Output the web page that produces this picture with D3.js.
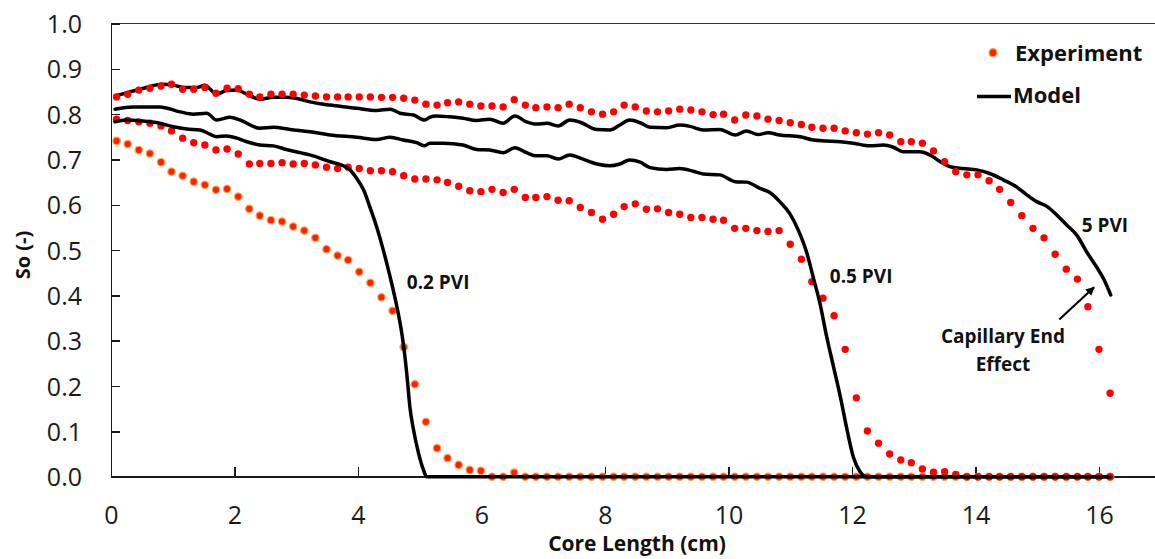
<!DOCTYPE html>
<meta charset="utf-8">
<style type="text/css">
	body {
		margin: 0;
		background: #fff;
		font-family: "Open Sans", sans-serif;
	}

	.axis text {
		font-family: "Open Sans", sans-serif;
		font-size: 25px;
		fill: #1a1a1a;
	}

	.axis line, .axis path {
		stroke: #1a1a1a;
		stroke-width: 1.5px;
		shape-rendering: crispEdges;
	}

	.axis-title, .g-label, .legend-text {
		font-family: "Open Sans", sans-serif;
		font-weight: 700;
		fill: #111;
	}

	.model {
		fill: none;
		stroke: #000;
		stroke-width: 3.5px;
		stroke-linejoin: round;
		stroke-linecap: round;
	}
</style>
<body>
<div class="g-chart"></div>
</body>

<script src="https://d3js.org/d3.v7.min.js"></script>

<script>
  // positions along the core (cm) of the measured slices
  var corePos = [0.09, 0.27, 0.45, 0.63, 0.81, 0.98, 1.16, 1.34, 1.52, 1.70,
    1.88, 2.06, 2.24, 2.41, 2.59, 2.77, 2.95, 3.13, 3.31, 3.49,
    3.67, 3.84, 4.02, 4.20, 4.38, 4.56, 4.74, 4.92, 5.10, 5.28,
    5.45, 5.63, 5.81, 5.99, 6.17, 6.35, 6.53, 6.71, 6.88, 7.06,
    7.24, 7.42, 7.60, 7.78, 7.96, 8.14, 8.31, 8.49, 8.67, 8.85,
    9.03, 9.21, 9.39, 9.57, 9.75, 9.92, 10.10, 10.28, 10.46, 10.64,
    10.82, 11.00, 11.18, 11.35, 11.53, 11.71, 11.89, 12.07, 12.25, 12.43,
    12.61, 12.79, 12.96, 13.14, 13.32, 13.50, 13.68, 13.86, 14.04, 14.22,
    14.39, 14.57, 14.75, 14.93, 15.11, 15.29, 15.47, 15.65, 15.82, 16.00,
    16.18];

  // experiment, 0.2 PVI
  var exp02 = [0.741, 0.734, 0.721, 0.713, 0.694, 0.673, 0.664, 0.651, 0.644, 0.633,
    0.635, 0.618, 0.591, 0.576, 0.566, 0.563, 0.552, 0.543, 0.527, 0.502,
    0.488, 0.478, 0.452, 0.428, 0.396, 0.366, 0.286, 0.204, 0.121, 0.063,
    0.041, 0.026, 0.015, 0.013, 0, 0, 0.009, 0, 0, 0,
    0, 0, 0, 0, 0, 0, 0, 0, 0, 0,
    0, 0, 0, 0, 0, 0, 0, 0, 0, 0,
    0, 0, 0, 0, 0, 0, 0, 0, 0, 0,
    0, 0, 0, 0, 0, 0, 0, 0, 0, 0,
    0, 0, 0, 0, 0, 0, 0, 0, 0, 0,
    0];

  // experiment, 0.5 PVI
  var exp05 = [0.789, 0.786, 0.783, 0.780, 0.774, 0.763, 0.747, 0.737, 0.732, 0.721,
    0.723, 0.712, 0.690, 0.691, 0.691, 0.693, 0.690, 0.691, 0.688, 0.683,
    0.680, 0.683, 0.680, 0.675, 0.675, 0.673, 0.664, 0.657, 0.657, 0.655,
    0.649, 0.641, 0.631, 0.629, 0.634, 0.627, 0.634, 0.616, 0.616, 0.618,
    0.610, 0.609, 0.594, 0.583, 0.568, 0.579, 0.596, 0.602, 0.590, 0.591,
    0.583, 0.579, 0.572, 0.572, 0.568, 0.566, 0.548, 0.548, 0.543, 0.541,
    0.543, 0.513, 0.480, 0.430, 0.394, 0.355, 0.281, 0.174, 0.101, 0.074,
    0.050, 0.037, 0.031, 0.017, 0.010, 0.011, 0.005, 0, 0, 0,
    0, 0, 0, 0, 0, 0, 0, 0, 0, 0,
    0];

  // experiment, 5 PVI
  var exp5 = [0.838, 0.844, 0.853, 0.857, 0.862, 0.866, 0.855, 0.855, 0.859, 0.846,
    0.857, 0.856, 0.844, 0.838, 0.844, 0.844, 0.844, 0.842, 0.840, 0.838,
    0.838, 0.838, 0.838, 0.838, 0.837, 0.837, 0.835, 0.831, 0.822, 0.820,
    0.825, 0.827, 0.822, 0.818, 0.818, 0.816, 0.832, 0.820, 0.814, 0.816,
    0.814, 0.822, 0.814, 0.805, 0.800, 0.805, 0.820, 0.816, 0.807, 0.805,
    0.807, 0.811, 0.809, 0.805, 0.799, 0.800, 0.787, 0.798, 0.796, 0.789,
    0.786, 0.781, 0.777, 0.771, 0.769, 0.769, 0.763, 0.759, 0.756, 0.759,
    0.754, 0.739, 0.739, 0.736, 0.719, 0.695, 0.673, 0.666, 0.666, 0.653,
    0.634, 0.605, 0.576, 0.548, 0.527, 0.491, 0.458, 0.436, 0.375, 0.281,
    0.184];

  // model curves [core length, So]
  var model02 = [[0.065, 0.783], [0.25, 0.787], [0.63, 0.783], [0.79, 0.780], [1.01, 0.772],
    [1.23, 0.767], [1.44, 0.765], [1.60, 0.756], [1.71, 0.750], [1.87, 0.752], [2.04, 0.747],
    [2.20, 0.739], [2.41, 0.732], [2.63, 0.730], [2.84, 0.722], [3.06, 0.715], [3.22, 0.710],
    [3.55, 0.695], [3.76, 0.686], [3.87, 0.677], [3.98, 0.658], [4.09, 0.633], [4.19, 0.596],
    [4.30, 0.552], [4.41, 0.500], [4.52, 0.441], [4.63, 0.375], [4.71, 0.316], [4.76, 0.265],
    [4.80, 0.213], [4.84, 0.154], [4.90, 0.103], [4.98, 0.052], [5.06, 0.015], [5.11, 0],
    [16.19, 0]];

  var model05 = [[0.065, 0.811], [0.36, 0.816], [0.79, 0.816], [1.12, 0.805], [1.33, 0.800],
    [1.55, 0.802], [1.71, 0.787], [1.93, 0.793], [2.09, 0.787], [2.41, 0.769], [2.63, 0.771],
    [2.90, 0.766], [3.22, 0.761], [3.55, 0.754], [3.98, 0.749], [4.30, 0.744], [4.52, 0.749],
    [4.73, 0.743], [4.95, 0.737], [5.08, 0.730], [5.16, 0.736], [5.38, 0.736], [5.70, 0.732],
    [5.92, 0.722], [6.13, 0.721], [6.35, 0.715], [6.54, 0.726], [6.73, 0.715], [6.89, 0.708],
    [7.06, 0.708], [7.24, 0.701], [7.43, 0.710], [7.60, 0.703], [7.87, 0.690], [8.08, 0.686],
    [8.24, 0.690], [8.40, 0.699], [8.57, 0.694], [8.73, 0.682], [9.00, 0.678], [9.21, 0.680],
    [9.43, 0.674], [9.59, 0.668], [9.86, 0.666], [10.11, 0.651], [10.29, 0.650], [10.51, 0.636],
    [10.67, 0.627], [10.83, 0.607], [10.99, 0.581], [11.13, 0.544], [11.27, 0.493], [11.37, 0.441],
    [11.48, 0.383], [11.59, 0.309], [11.70, 0.243], [11.81, 0.177], [11.91, 0.110], [12.02, 0.044],
    [12.13, 0.011], [12.24, 0], [16.19, 0]];

  var model5 = [[0.065, 0.840], [0.25, 0.847], [0.47, 0.855], [0.63, 0.861], [0.82, 0.866],
    [1.01, 0.864], [1.17, 0.859], [1.39, 0.859], [1.52, 0.864], [1.71, 0.844], [1.87, 0.852],
    [2.04, 0.853], [2.20, 0.844], [2.41, 0.833], [2.63, 0.837], [2.84, 0.837], [3.06, 0.833],
    [3.22, 0.827], [3.55, 0.820], [3.98, 0.813], [4.30, 0.808], [4.52, 0.811], [4.68, 0.802],
    [4.90, 0.798], [5.08, 0.787], [5.16, 0.793], [5.27, 0.796], [5.49, 0.794], [5.70, 0.791],
    [5.92, 0.786], [6.13, 0.789], [6.35, 0.780], [6.54, 0.796], [6.73, 0.783], [6.89, 0.778],
    [7.06, 0.780], [7.24, 0.774], [7.43, 0.787], [7.60, 0.782], [7.87, 0.766], [8.08, 0.765],
    [8.24, 0.776], [8.40, 0.787], [8.57, 0.781], [8.73, 0.771], [9.00, 0.770], [9.21, 0.776],
    [9.38, 0.773], [9.59, 0.765], [9.86, 0.766], [10.11, 0.754], [10.29, 0.763], [10.48, 0.755],
    [10.64, 0.759], [10.83, 0.754], [11.16, 0.750], [11.37, 0.743], [11.59, 0.741], [11.81, 0.739],
    [12.02, 0.736], [12.29, 0.730], [12.51, 0.732], [12.67, 0.727], [12.83, 0.717], [13.10, 0.717],
    [13.26, 0.710], [13.43, 0.695], [13.59, 0.684], [13.80, 0.680], [14.02, 0.677], [14.23, 0.669],
    [14.45, 0.655], [14.67, 0.639], [14.83, 0.622], [14.99, 0.607], [15.15, 0.597], [15.32, 0.577],
    [15.48, 0.555], [15.64, 0.533], [15.80, 0.496], [15.96, 0.463], [16.07, 0.438], [16.19, 0.401]];

  var xTicks = [0, 2, 4, 6, 8, 10, 12, 14, 16];
  var yTicks = [0, 0.1, 0.2, 0.3, 0.4, 0.5, 0.6, 0.7, 0.8, 0.9, 1.0];

  // text labels: [text, core length, So]
  var pviLabels = [["0.2 PVI", 4.79, 0.414], ["0.5 PVI", 11.64, 0.427], ["5 PVI", 15.72, 0.541]];

  //Margin conventions
  var W = 1155, H = 559;
  var margin = { top: 23.5, left: 111, bottom: 82.3 };

  var svg = d3.select(".g-chart").append("svg")
    .attr("width", W)
    .attr("height", H);

  var xScale = d3.scaleLinear().domain([0, 17]).range([margin.left, margin.left + 17 * 61.75]);
  var yScale = d3.scaleLinear().domain([0, 1]).range([H - margin.bottom, margin.top]);

  //top border line
  svg.append("line")
    .attr("x1", xScale(0)).attr("x2", W)
    .attr("y1", yScale(1)).attr("y2", yScale(1))
    .style("stroke", "#333").style("stroke-width", 1.5)
    .style("shape-rendering", "crispEdges");

  //axes
  var xAxis = d3.axisBottom(xScale)
    .tickValues(xTicks)
    .tickSizeInner(-10)
    .tickSizeOuter(0)
    .tickPadding(30)
    .tickFormat(d3.format("d"));

  var yAxis = d3.axisLeft(yScale)
    .tickValues(yTicks)
    .tickSizeInner(-9)
    .tickSizeOuter(0)
    .tickPadding(29)
    .tickFormat(d3.format(".1f"));

  svg.append("g")
    .attr("class", "x axis")
    .attr("transform", "translate(0," + yScale(0) + ")")
    .call(xAxis);

  svg.append("g")
    .attr("class", "y axis")
    .attr("transform", "translate(" + xScale(0) + ",0)")
    .call(yAxis)
    .selectAll("text").attr("dy", "0.36em");

  //axis titles
  svg.append("text")
    .attr("class", "axis-title")
    .attr("x", 637).attr("y", 551)
    .attr("text-anchor", "middle")
    .style("font-size", "21px")
    .text("Core Length (cm)");

  svg.append("text")
    .attr("class", "axis-title")
    .attr("transform", "translate(30," + 255 + ") rotate(-90)")
    .attr("text-anchor", "middle")
    .style("font-size", "20px")
    .text("So (-)");

  //experiment dots
  function drawDots(values, fill, stroke) {
    svg.append("g").selectAll("circle")
      .data(values)
      .enter()
      .append("circle")
      .attr("cx", function(d, i) { return xScale(corePos[i]); })
      .attr("cy", function(d) { return yScale(d); })
      .attr("r", 3.7)
      .style("fill", fill)
      .style("stroke", stroke)
      .style("stroke-width", stroke == "none" ? 0 : 1.2);
  }

  drawDots(exp02, "#ff2200", "#ffa24a");
  drawDots(exp05, "#ff0000", "none");

  //model lines
  var line = d3.line()
    .x(function(d) { return xScale(d[0]); })
    .y(function(d) { return yScale(d[1]); })
    .curve(d3.curveMonotoneX);

  [model02, model05, model5].forEach(function(m) {
    svg.append("path")
      .datum(m)
      .attr("class", "model")
      .attr("d", line);
  });

  drawDots(exp5, "#ff0000", "none");

  //PVI labels
  svg.selectAll("text.g-label")
    .data(pviLabels)
    .enter()
    .append("text")
    .attr("class", "g-label")
    .attr("x", function(d) { return xScale(d[1]); })
    .attr("y", function(d) { return yScale(d[2]); })
    .style("font-size", "19px")
    .text(function(d) { return d[0]; });

  //capillary end effect note + arrow
  svg.append("defs").append("marker")
    .attr("id", "arrow")
    .attr("viewBox", "0 0 10 10")
    .attr("refX", 9).attr("refY", 5)
    .attr("markerWidth", 4).attr("markerHeight", 4)
    .attr("orient", "auto")
    .append("path")
    .attr("d", "M0,0L10,5L0,10z")
    .style("fill", "#000");

  svg.append("line")
    .attr("x1", xScale(15.357)).attr("y1", yScale(0.347))
    .attr("x2", xScale(15.92)).attr("y2", yScale(0.418))
    .style("stroke", "#000").style("stroke-width", 2.2)
    .attr("marker-end", "url(#arrow)");

  var note = svg.append("text")
    .attr("class", "g-label")
    .attr("text-anchor", "middle")
    .style("font-size", "19px");
  note.append("tspan").attr("x", xScale(14.445)).attr("y", yScale(0.295)).text("Capillary End");
  note.append("tspan").attr("x", xScale(14.445)).attr("y", yScale(0.234)).text("Effect");

  //legend
  var legend = svg.append("g").attr("class", "legend");
  legend.append("circle")
    .attr("cx", 993).attr("cy", 52.7).attr("r", 4)
    .style("fill", "#ff2200").style("stroke", "#ffa24a").style("stroke-width", 1.2);
  legend.append("text")
    .attr("class", "legend-text")
    .attr("x", 1015).attr("y", 61)
    .style("font-size", "22px")
    .text("Experiment");
  legend.append("line")
    .attr("x1", 977).attr("x2", 1011)
    .attr("y1", 96.5).attr("y2", 96.5)
    .style("stroke", "#000").style("stroke-width", 3.5);
  legend.append("text")
    .attr("class", "legend-text")
    .attr("x", 1013).attr("y", 102.5)
    .style("font-size", "22px")
    .text("Model");
</script>
